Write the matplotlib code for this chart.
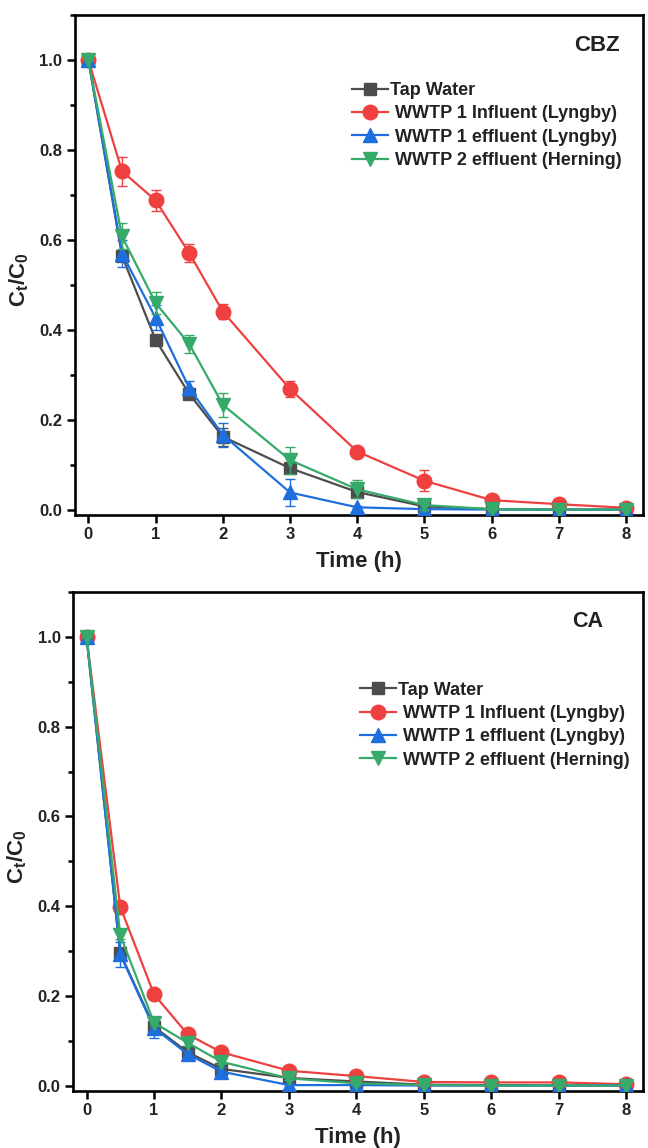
import matplotlib
matplotlib.use("Agg")
import matplotlib.pyplot as plt
from matplotlib.ticker import MultipleLocator
from matplotlib.lines import Line2D

plt.rcParams['font.family'] = ['Liberation Sans', 'DejaVu Sans']
plt.rcParams['mathtext.fontset'] = 'custom'
plt.rcParams['mathtext.rm'] = 'Liberation Sans'
plt.rcParams['mathtext.bf'] = 'Liberation Sans:bold'
plt.rcParams['mathtext.it'] = 'Liberation Sans:italic'

time_h = [0, 0.5, 1, 1.5, 2, 3, 4, 5, 6, 7, 8]
labels = ["Tap Water", " WWTP 1 Influent (Lyngby)", " WWTP 1 effluent (Lyngby)", " WWTP 2 effluent (Herning)"]
colors = ["#4d4d4d", "#ef4040", "#1e6fdd", "#36aa6a"]
markers = ["s", "o", "^", "v"]
msizes = [8, 10.5, 10.5, 10.5]

# CBZ
cbz_tap = [1.0, 0.565, 0.378, 0.258, 0.163, 0.093, 0.040, 0.008, 0.002, 0.001, 0.001]
cbz_inf = [1.0, 0.753, 0.688, 0.571, 0.441, 0.269, 0.130, 0.065, 0.022, 0.013, 0.005]
cbz_eff1 = [1.0, 0.570, 0.427, 0.271, 0.167, 0.039, 0.006, 0.002, 0.001, 0.001, 0.001]
cbz_eff2 = [1.0, 0.608, 0.460, 0.369, 0.234, 0.111, 0.046, 0.011, 0.002, 0.001, 0.001]
cbz_tap_err = [0.0, 0.010, 0.008, 0.008, 0.020, 0.010, 0.008, 0.004, 0.002, 0.001, 0.001]
cbz_inf_err = [0.0, 0.032, 0.023, 0.020, 0.017, 0.018, 0.005, 0.023, 0.005, 0.006, 0.004]
cbz_eff1_err = [0.0, 0.030, 0.028, 0.016, 0.026, 0.029, 0.004, 0.002, 0.002, 0.002, 0.002]
cbz_eff2_err = [0.0, 0.029, 0.025, 0.019, 0.027, 0.030, 0.020, 0.010, 0.005, 0.002, 0.002]

# CA
ca_tap = [1.0, 0.295, 0.132, 0.075, 0.038, 0.018, 0.010, 0.003, 0.002, 0.001, 0.001]
ca_inf = [1.0, 0.399, 0.204, 0.115, 0.075, 0.034, 0.022, 0.009, 0.008, 0.008, 0.004]
ca_eff1 = [1.0, 0.293, 0.129, 0.071, 0.032, 0.002, 0.002, 0.001, 0.001, 0.001, 0.002]
ca_eff2 = [1.0, 0.336, 0.141, 0.096, 0.054, 0.017, 0.006, 0.002, 0.001, 0.001, 0.001]
ca_tap_err = [0.0, 0.010, 0.008, 0.006, 0.005, 0.004, 0.003, 0.002, 0.001, 0.001, 0.001]
ca_inf_err = [0.0, 0.006, 0.005, 0.005, 0.004, 0.003, 0.003, 0.002, 0.002, 0.002, 0.002]
ca_eff1_err = [0.0, 0.027, 0.022, 0.008, 0.010, 0.012, 0.008, 0.006, 0.007, 0.007, 0.007]
ca_eff2_err = [0.0, 0.008, 0.006, 0.006, 0.006, 0.004, 0.003, 0.002, 0.002, 0.002, 0.002]

panels = [
    ("CBZ", [cbz_tap, cbz_inf, cbz_eff1, cbz_eff2], [cbz_tap_err, cbz_inf_err, cbz_eff1_err, cbz_eff2_err]),
    ("CA", [ca_tap, ca_inf, ca_eff1, ca_eff2], [ca_tap_err, ca_inf_err, ca_eff1_err, ca_eff2_err]),
]

fig = plt.figure(figsize=(6.48, 11.48), dpi=100)
rects = [[0.1157, 0.5514, 0.8765, 0.4355], [0.1127, 0.0497, 0.8800, 0.4347]]
legend_anchor = [(0.488, 0.866), (0.503, 0.820)]
title_pos = [(0.960, 0.940), (0.930, 0.940)]
title_size = [16, 15.5]

for i, (name, series, errs) in enumerate(panels):
    ax = fig.add_axes(rects[i])
    handles = []
    for j in range(4):
        ax.errorbar(time_h, series[j], yerr=errs[j], color=colors[j], marker=markers[j],
                    markersize=msizes[j], linewidth=1.6, elinewidth=1.0, capsize=3.5,
                    capthick=1.0, zorder=2 + j)
        handles.append(Line2D([], [], color=colors[j], marker=markers[j],
                              markersize=msizes[j], linewidth=1.6))
    ax.set_xlim(-0.2, 8.25)
    ax.set_ylim(-0.011, 1.10)
    ax.xaxis.set_major_locator(MultipleLocator(1))
    ax.yaxis.set_major_locator(MultipleLocator(0.2))
    ax.yaxis.set_minor_locator(MultipleLocator(0.1))
    ax.tick_params(axis='both', which='major', direction='out', length=6, width=1.8,
                   labelsize=12, pad=3)
    ax.tick_params(axis='y', which='minor', direction='out', length=3.5, width=1.8)
    ax.tick_params(top=False, right=False)
    for lab in ax.get_xticklabels() + ax.get_yticklabels():
        lab.set_fontweight('bold')
        lab.set_color('#222222')
    for sp in ax.spines.values():
        sp.set_linewidth(1.9)
    ax.set_xlabel("Time (h)", fontsize=16, fontweight='bold', color='#222222', labelpad=6)
    ax.set_ylabel(r"$\mathbf{C_t/C_0}$", fontsize=16, color='#222222')
    ax.yaxis.set_label_coords(-0.078, 0.47)
    ax.text(title_pos[i][0], title_pos[i][1], name, transform=ax.transAxes, ha='right', va='center',
            fontsize=title_size[i], fontweight='bold', color='#222222')
    leg = ax.legend(handles, labels, loc='upper left', bbox_to_anchor=legend_anchor[i], frameon=False,
                    prop={'weight': 'bold', 'size': 13}, handlelength=2.0, handletextpad=0.1,
                    labelspacing=0.35, borderaxespad=0.0, borderpad=0.0)
    for t in leg.get_texts():
        t.set_color('#222222')

fig.savefig("out.png", dpi=100)
